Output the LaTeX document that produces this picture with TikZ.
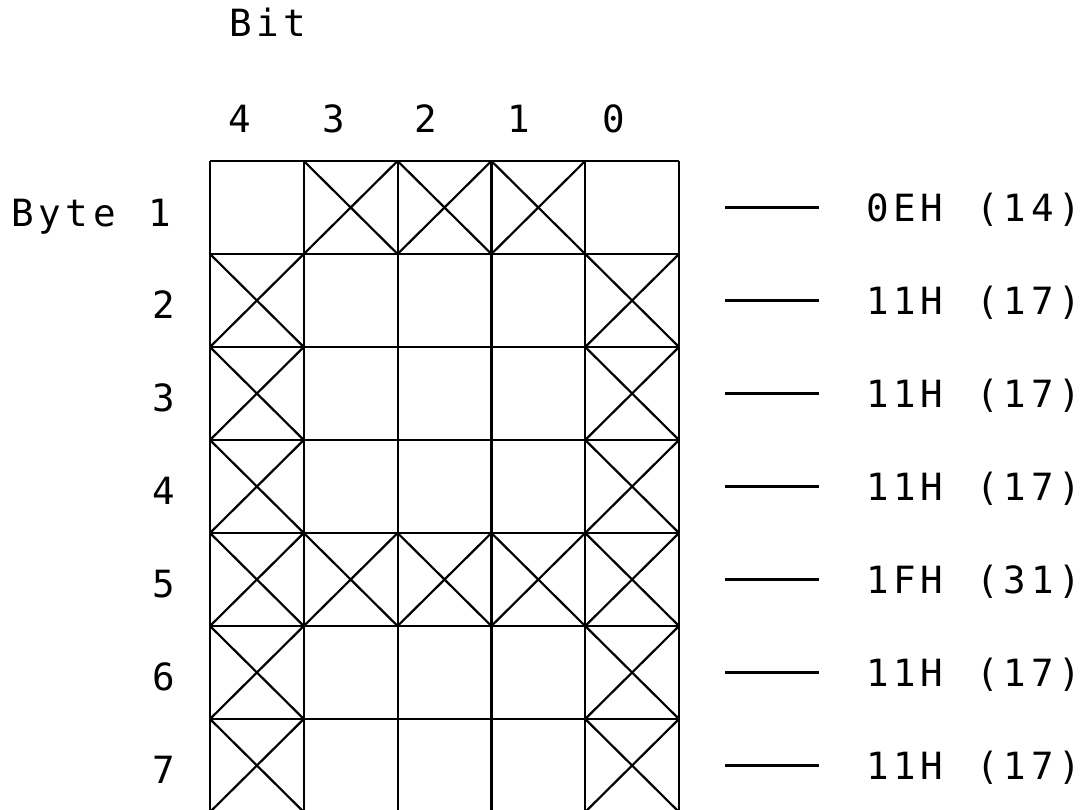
\documentclass[tikz,border=0pt]{standalone}
\usepackage{fontspec}
\newfontfamily\plotA{DejaVu Sans Mono}
\newfontfamily\plotB[LetterSpace=12.7,WordSpace=1.21]{DejaVu Sans Mono}
\begin{document}
\begin{tikzpicture}[x=1pt,y=-1pt,line width=2.2pt,
  lblA/.style={inner sep=0pt,outer sep=0pt,font=\plotA\fontsize{37.5}{40}\selectfont},
  lblB/.style={inner sep=0pt,outer sep=0pt,font=\plotB\fontsize{37.5}{40}\selectfont}]
\useasboundingbox (0,0) rectangle (1089,810);
\clip (0,0) rectangle (1089,810);
\def\xo{210}\def\dx{93.8}\def\yo{161}\def\dy{93}
% grid
\foreach \i in {0,...,5} \draw (\xo+\i*\dx,\yo) -- (\xo+\i*\dx,\yo+7*\dy);
\foreach \j in {0,...,7} \draw (\xo,\yo+\j*\dy) -- (\xo+5*\dx,\yo+\j*\dy);
% set pixels (crosses)
\foreach \c/\r in {1/0,2/0,3/0,0/1,4/1,0/2,4/2,0/3,4/3,0/4,1/4,2/4,3/4,4/4,0/5,4/5,0/6,4/6}{
  \draw (\xo+\c*\dx,\yo+\r*\dy) -- ++(\dx,\dy);
  \draw (\xo+\c*\dx+\dx,\yo+\r*\dy) -- ++(-\dx,\dy);
}
% headings
\node[lblB,anchor=base west] (bit) at (229,37) {Bit};
\node[lblA,anchor=base] (b4) at (240,133) {4};
\node[lblA,anchor=base] (b3) at (334,133) {3};
\node[lblA,anchor=base] (b2) at (426,133) {2};
\node[lblA,anchor=base] (b1) at (519,133) {1};
\node[lblA,anchor=base] (b0) at (614,133) {0};
\node[lblB,anchor=base west] (byte) at (11,227) {Byte 1};
\foreach \n in {2,...,7}
  \node[lblA,anchor=base] (r\n) at (164,\yo+\n*\dy-\dy/2+18) {\n};
% values
\foreach \n/\v in {1/0EH (14),2/11H (17),3/11H (17),4/11H (17),5/1FH (31),6/11H (17),7/11H (17)}{
  \coordinate (da\n) at (725,\yo+\n*\dy-\dy/2);
  \coordinate (db\n) at (819,\yo+\n*\dy-\dy/2);
  \draw (da\n) -- (db\n);
  \node[lblB,anchor=base west] (v\n) at (866,\yo+\n*\dy-\dy/2+14) {\v};
}
\end{tikzpicture}
\end{document}
